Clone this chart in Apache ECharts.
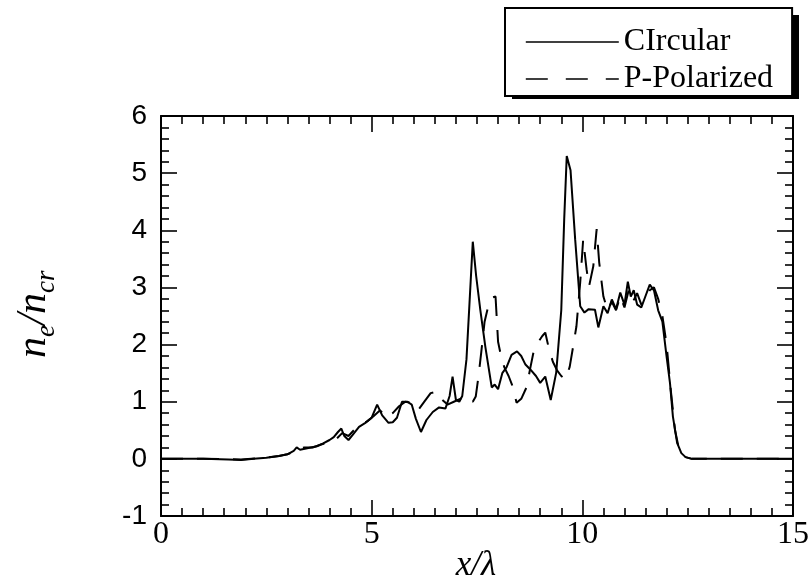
<!DOCTYPE html>
<html>
<head>
<meta charset="utf-8">
<script src="https://cdn.jsdelivr.net/npm/echarts/dist/echarts.min.js"></script>
<style>html,body{margin:0;padding:0;background:#fff;}#c{width:812px;height:587px;}</style>
</head>
<body>
<div id="c"></div>
<script>
// x/lambda and n_e/n_cr values
const circX = [0,1,1.6,1.9,2.2,2.5,2.8,3.0,3.15,3.22,3.3,3.5,3.7,3.85,4.0,4.1,4.2,4.28,4.35,4.45,4.55,4.7,4.85,5.0,5.13,5.25,5.4,5.5,5.6,5.72,5.85,5.95,6.05,6.17,6.3,6.45,6.6,6.75,6.85,6.92,7.0,7.08,7.15,7.25,7.32,7.4,7.48,7.58,7.7,7.85,7.92,8.0,8.1,8.2,8.32,8.45,8.55,8.65,8.77,8.9,9.0,9.12,9.25,9.38,9.5,9.57,9.63,9.72,9.83,9.95,10.05,10.15,10.3,10.38,10.5,10.6,10.7,10.8,10.9,11.0,11.08,11.15,11.22,11.3,11.4,11.5,11.6,11.7,11.8,11.9,12.0,12.08,12.15,12.25,12.35,12.45,12.6,13,14,15];
const circY = [0,0,-0.01,-0.02,0,0.02,0.05,0.08,0.14,0.2,0.16,0.19,0.22,0.27,0.33,0.38,0.47,0.53,0.4,0.33,0.42,0.56,0.63,0.72,0.95,0.76,0.63,0.64,0.72,1.0,1.0,0.95,0.7,0.47,0.68,0.82,0.9,0.88,1.1,1.44,1.03,1.0,1.1,1.74,2.7,3.8,3.2,2.6,1.95,1.25,1.3,1.22,1.5,1.6,1.82,1.88,1.8,1.65,1.56,1.45,1.33,1.44,1.03,1.51,2.6,4.2,5.3,5.05,3.84,2.67,2.56,2.62,2.61,2.3,2.67,2.55,2.79,2.62,2.91,2.7,3.1,2.84,2.95,2.7,2.65,2.85,3.05,2.95,2.6,2.4,1.79,1.33,0.74,0.28,0.1,0.03,0,0,0,0];
const polX = [0,1,1.9,2.5,2.8,3.0,3.15,3.25,3.4,3.6,3.8,4.0,4.15,4.3,4.45,4.6,4.75,4.9,5.05,5.2,5.35,5.5,5.65,5.8,5.95,6.1,6.25,6.4,6.55,6.65,6.8,6.95,7.1,7.25,7.4,7.47,7.54,7.6,7.68,7.76,7.85,7.94,8.0,8.07,8.15,8.25,8.33,8.44,8.55,8.68,8.77,8.85,8.95,9.05,9.12,9.2,9.3,9.4,9.5,9.6,9.7,9.78,9.86,9.95,10.02,10.1,10.16,10.26,10.34,10.4,10.5,10.6,10.7,10.8,10.9,11.0,11.1,11.2,11.3,11.4,11.5,11.6,11.7,11.8,11.9,12.0,12.1,12.2,12.3,12.45,12.6,13,14,15];
const polY = [0,0,-0.01,0.02,0.05,0.08,0.12,0.18,0.2,0.2,0.25,0.3,0.34,0.45,0.4,0.52,0.6,0.66,0.75,0.85,0.72,0.8,0.92,1.0,0.98,0.85,1.0,1.15,1.18,1.05,0.95,1.0,1.05,1.1,1.0,1.09,1.47,1.86,2.4,2.65,2.82,2.84,2.05,1.8,1.6,1.45,1.3,0.98,1.05,1.26,1.61,1.9,2.04,2.15,2.21,1.95,1.7,1.55,1.45,1.39,1.61,1.96,2.32,3.09,3.84,3.32,3.02,3.37,4.02,3.44,2.84,2.6,2.75,2.6,2.85,2.65,2.95,2.75,2.9,2.7,2.8,2.95,3.0,2.8,2.5,2.0,1.2,0.5,0.15,0.03,0,0,0,0];
const seriesNames = ['CIrcular', 'P-Polarized'];

const zip = (xs, ys) => xs.map((x, i) => [x, ys[i]]);

const chart = echarts.init(document.getElementById('c'), null, {renderer: 'canvas'});

const tickCommon = {
  axisLine: {onZero: false, lineStyle: {color: '#000', width: 2}},
  axisTick: {inside: true, length: 16, lineStyle: {color: '#000', width: 1.6}},
  splitLine: {show: false}
};
function xAx(pos, showLabel) {
  return Object.assign({
    type: 'value', min: 0, max: 15, interval: 5, position: pos,
    minorTick: {show: true, splitNumber: 10, length: 8, lineStyle: {color: '#000', width: 1.6}},
    axisLabel: {show: showLabel, color: '#000', fontFamily: 'Liberation Serif', fontSize: 32, margin: 3}
  }, tickCommon);
}
function yAx(pos, showLabel) {
  return Object.assign({
    type: 'value', min: -1, max: 6, interval: 1, position: pos,
    minorTick: {show: true, splitNumber: 5, length: 8, lineStyle: {color: '#000', width: 1.6}},
    axisLabel: {show: showLabel, color: '#000', fontFamily: 'Liberation Sans', fontSize: 28, margin: 14}
  }, tickCommon);
}

const subFont = 'italic 27px "Liberation Serif"';
const mainFont = 'italic 42px "Liberation Serif"';
const hidden = {color: 'rgba(0,0,0,0)', borderColor: 'rgba(0,0,0,0)', borderWidth: 0};

chart.setOption({
  animation: false,
  backgroundColor: '#fff',
  grid: {left: 161, top: 116, right: 16, bottom: 71},
  xAxis: [xAx('bottom', true), xAx('top', false)],
  yAxis: [yAx('left', true), yAx('right', false)],
  legend: {
    orient: 'vertical', left: 505, top: 8,
    itemWidth: 93, itemHeight: 20, itemGap: 5,
    padding: [18, 19, 1, 20],
    backgroundColor: '#fff', borderColor: '#000', borderWidth: 2, borderRadius: 0,
    textStyle: {fontFamily: 'Liberation Serif', fontSize: 32, lineHeight: 30, color: '#000'},
    data: [
      {name: seriesNames[0], itemStyle: hidden, lineStyle: {type: 'solid', width: 1.6, color: '#000'}},
      {name: seriesNames[1], itemStyle: hidden, lineStyle: {type: [22, 18], width: 1.6, color: '#000'}}
    ]
  },
  series: [
    {name: seriesNames[0], type: 'line', xAxisIndex: 0, yAxisIndex: 0, symbol: 'none',
     lineStyle: {color: '#000', width: 2}, itemStyle: {color: '#000'}, data: zip(circX, circY)},
    {name: seriesNames[1], type: 'line', xAxisIndex: 0, yAxisIndex: 0, symbol: 'none',
     lineStyle: {color: '#000', width: 2, type: [22, 14]}, itemStyle: {color: '#000'}, data: zip(polX, polY)}
  ],
  graphic: [
    // drop shadow behind the legend box
    {type: 'rect', z: 1, shape: {x: 512, y: 15, width: 287, height: 84}, style: {fill: '#000'}},
    {type: 'text', x: 476, y: 566, style: {text: 'x/λ', font: 'italic 35px "Liberation Serif"', fill: '#000', align: 'center', verticalAlign: 'middle'}},
    {type: 'group', x: 34, y: 318, rotation: Math.PI / 2, children: [
      {type: 'text', x: -40, y: 0, style: {text: 'n', font: mainFont, fill: '#000', align: 'left', verticalAlign: 'middle'}},
      {type: 'text', x: -19, y: 13, style: {text: 'e', font: subFont, fill: '#000', align: 'left', verticalAlign: 'middle'}},
      {type: 'text', x: -7, y: 0, style: {text: '/', font: mainFont, fill: '#000', align: 'left', verticalAlign: 'middle'}},
      {type: 'text', x: 4, y: 0, style: {text: 'n', font: mainFont, fill: '#000', align: 'left', verticalAlign: 'middle'}},
      {type: 'text', x: 25, y: 13, style: {text: 'cr', font: subFont, fill: '#000', align: 'left', verticalAlign: 'middle'}}
    ]}
  ]
});
</script>
</body>
</html>
